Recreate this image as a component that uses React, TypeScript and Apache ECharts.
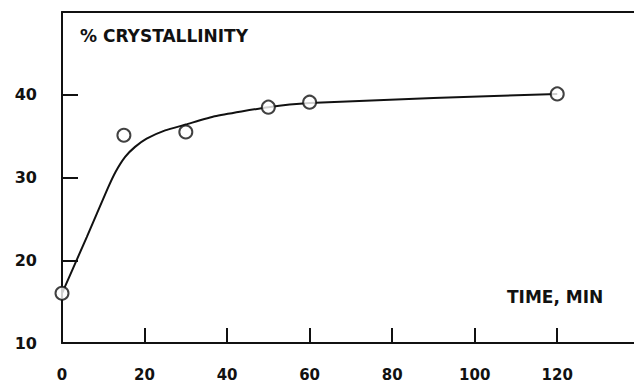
import React, { useEffect, useRef } from "react";
import * as echarts from "echarts";

// Measured data points (time in min, % crystallinity)
const pointTimes = [0, 15, 30, 50, 60, 120];
const pointValues = [16.0, 35.1, 35.5, 38.5, 39.1, 40.1];

// Fitted curve
const curveTimes = [0, 6, 11, 13, 15.3, 17.7, 20.5, 25, 30, 37, 50, 60, 90, 120];
const curveValues = [16, 22.8, 28.6, 30.7, 32.5, 33.7, 34.7, 35.7, 36.4, 37.4, 38.5, 39.0, 39.6, 40.1];

const xLabels = [0, 20, 40, 60, 80, 100, 120];
const xTicks = [20, 40, 60, 80, 100, 120];
const yLabels = [10, 20, 30, 40];
const yTicks = [20, 30, 40];

const yTitle = "% CRYSTALLINITY";
const xTitle = "TIME, MIN";

export default function App() {
  const ref = useRef<HTMLDivElement>(null);
  useEffect(() => {
    if (!ref.current) return;
    const chart = echarts.init(ref.current, null, { renderer: "svg" });
    const ink = "#111";
    const font = "DejaVu Sans";
    chart.setOption({
      animation: false,
      backgroundColor: "#fff",
      grid: { left: 62, right: 0, top: 12, bottom: 41, containLabel: false, outerBoundsMode: "none" },
      xAxis: [
        {
          type: "value",
          min: 0,
          max: 138.6,
          position: "bottom",
          splitLine: { show: false },
          axisLine: { show: true, onZero: false, lineStyle: { color: ink, width: 2 } },
          axisTick: { show: true, inside: true, length: 15, customValues: xTicks, lineStyle: { color: ink, width: 2 } },
          axisLabel: { customValues: xLabels, margin: 24, color: ink, fontFamily: font, fontWeight: "bold", fontSize: 15, lineHeight: 15 },
        },
        {
          type: "value",
          min: 0,
          max: 138.6,
          position: "top",
          splitLine: { show: false },
          axisLine: { show: true, onZero: false, lineStyle: { color: ink, width: 2 } },
          axisTick: { show: false },
          axisLabel: { show: false },
        },
      ],
      yAxis: {
        type: "value",
        min: 10,
        max: 50,
        interval: 10,
        splitLine: { show: false },
        axisLine: { show: true, onZero: false, lineStyle: { color: ink, width: 2 } },
        axisTick: { show: true, inside: true, length: 16, customValues: yTicks, lineStyle: { color: ink, width: 2 } },
        axisLabel: { customValues: yLabels, margin: 25, color: ink, fontFamily: font, fontWeight: "bold", fontSize: 16 },
      },
      graphic: [
        {
          type: "text",
          x: 80,
          y: 36,
          style: { text: yTitle, fill: ink, font: `bold 17px "${font}"`, textVerticalAlign: "middle" },
        },
        {
          type: "text",
          x: 507,
          y: 297,
          style: { text: xTitle, fill: ink, font: `bold 17px "${font}"`, textVerticalAlign: "middle" },
        },
      ],
      series: [
        {
          type: "line",
          data: curveTimes.map((t, i) => [t, curveValues[i]]),
          smooth: 0.15,
          showSymbol: false,
          lineStyle: { color: ink, width: 2 },
          z: 2,
        },
        {
          type: "scatter",
          data: pointTimes.map((t, i) => [t, pointValues[i]]),
          symbol: "circle",
          symbolSize: 13,
          itemStyle: { color: "#fff", borderColor: ink, borderWidth: 2 },
          z: 3,
        },
      ],
    });
    return () => chart.dispose();
  }, []);
  return <div ref={ref} style={{ position: "fixed", left: 0, top: 0, width: 634, height: 384 }} />;
}
